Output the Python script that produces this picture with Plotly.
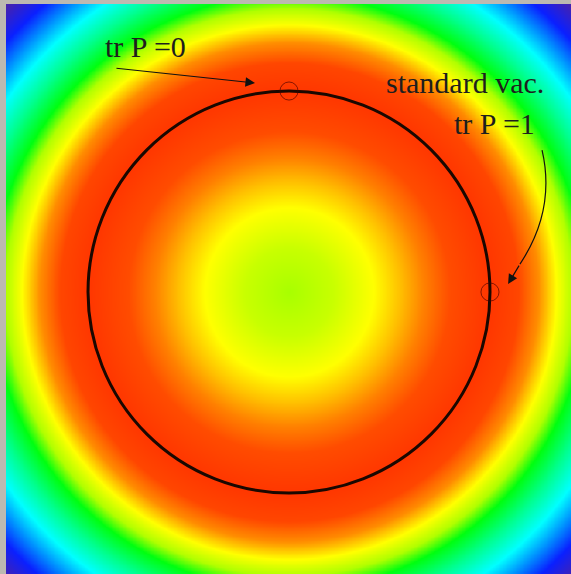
import numpy as np
import plotly.graph_objects as go

# radial colour profile (radius in units of the vacuum radius)
ring_radius = [0.0, 0.22, 0.42, 0.55, 0.67, 0.80, 1.0, 1.14, 1.24, 1.33, 1.41, 1.48, 1.59, 1.70, 1.79, 1.88, 2.01]
ring_color = ['#a8ff00', '#c8ff00', '#ffff00', '#ffc000', '#ff8000', '#ff4c00', '#ff3600', '#ff4600',
              '#ff8c00', '#ffff00', '#b0ff00', '#00ff10', '#00ff90', '#00ffff', '#0090ff', '#0a20ff', '#4a22a8']

vacuum_radius = 1.0
marker_points_x = [0.0, 1.0]
marker_points_y = [1.0, 0.0]
marker_radius = 0.045

labels = ["tr P =0", "standard vac.", "tr P =1"]

x_range = [-1.408, 1.403]
y_range = [-1.403, 1.433]

xs = np.linspace(x_range[0], x_range[1], 401)
ys = np.linspace(y_range[0], y_range[1], 401)
X, Y = np.meshgrid(xs, ys)
R = np.sqrt(X**2 + Y**2)

rmax = ring_radius[-1]
colorscale = [[r / rmax, c] for r, c in zip(ring_radius, ring_color)]

fig = go.Figure()
fig.add_trace(go.Heatmap(x=xs, y=ys, z=R, zmin=0, zmax=rmax, colorscale=colorscale,
                         showscale=False, zsmooth='best', hoverinfo='skip'))

shapes = [dict(type='circle', xref='x', yref='y', x0=-vacuum_radius, x1=vacuum_radius,
               y0=-vacuum_radius, y1=vacuum_radius, line=dict(color='#1a0800', width=3))]
for mx, my in zip(marker_points_x, marker_points_y):
    shapes.append(dict(type='circle', xref='x', yref='y', x0=mx - marker_radius, x1=mx + marker_radius,
                       y0=my - marker_radius, y1=my + marker_radius,
                       line=dict(color='rgba(70,0,0,0.65)', width=1)))
# curved arrow shaft
shapes.append(dict(type='path', xref='x', yref='y',
                   path='M 1.259,0.706 Q 1.328,0.408 1.149,0.139',
                   line=dict(color='#111', width=1.2)))

font = dict(family='Liberation Serif, Times New Roman, serif', size=30, color='#1e1e1e')
annotations = [
    dict(x=-0.716, y=1.224, text=labels[0], showarrow=False, font=font, xref='x', yref='y'),
    dict(x=0.876, y=1.04, text=labels[1], showarrow=False, font=font, xref='x', yref='y'),
    dict(x=1.02, y=0.836, text=labels[2], showarrow=False, font=font, xref='x', yref='y'),
    dict(x=-0.169, y=1.040, ax=-0.866, ay=1.114, axref='x', ayref='y', xref='x', yref='y',
         text='', showarrow=True, arrowhead=2, arrowsize=1.6, arrowwidth=1.2, arrowcolor='#111'),
    dict(x=1.090, y=0.040, ax=1.149, ay=0.139, axref='x', ayref='y', xref='x', yref='y',
         text='', showarrow=True, arrowhead=2, arrowsize=1.6, arrowwidth=1.2, arrowcolor='#111'),
]

fig.update_layout(
    width=571, height=574,
    margin=dict(l=6, r=0, t=4, b=0),
    paper_bgcolor='#bcb9b1', plot_bgcolor='#bcb9b1',
    xaxis=dict(range=x_range, visible=False, showgrid=False, zeroline=False),
    yaxis=dict(range=y_range, visible=False, showgrid=False, zeroline=False),
    shapes=shapes, annotations=annotations, showlegend=False,
)

fig.write_html("out.html", config={'displayModeBar': False},
               post_script="document.body.style.margin='0';document.body.style.background='#bcb9b1';")
